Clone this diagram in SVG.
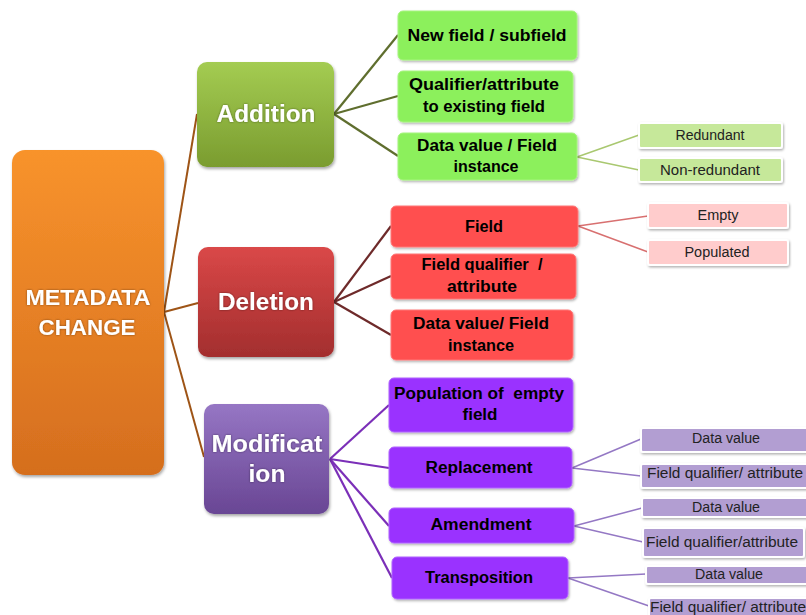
<svg xmlns="http://www.w3.org/2000/svg" width="806" height="615" viewBox="0 0 806 615">
  <defs>
    <linearGradient id="gRoot" x1="0" y1="0" x2="0" y2="1">
      <stop offset="0" stop-color="#F8932C"/>
      <stop offset="1" stop-color="#D56E1E"/>
    </linearGradient>
    <linearGradient id="gAdd" x1="0" y1="0" x2="0" y2="1">
      <stop offset="0" stop-color="#A4CC52"/>
      <stop offset="1" stop-color="#7A9C2F"/>
    </linearGradient>
    <linearGradient id="gDel" x1="0" y1="0" x2="0" y2="1">
      <stop offset="0" stop-color="#DA4848"/>
      <stop offset="1" stop-color="#A32E2E"/>
    </linearGradient>
    <linearGradient id="gMod" x1="0" y1="0" x2="0" y2="1">
      <stop offset="0" stop-color="#9676C4"/>
      <stop offset="1" stop-color="#694694"/>
    </linearGradient>
    <filter id="shadow" x="-10%" y="-10%" width="125%" height="130%">
      <feDropShadow dx="1" dy="2" stdDeviation="1.6" flood-color="#000" flood-opacity="0.35"/>
    </filter>
    <filter id="soft" x="-10%" y="-20%" width="125%" height="150%">
      <feDropShadow dx="1" dy="1.5" stdDeviation="1.2" flood-color="#000" flood-opacity="0.3"/>
    </filter>
    <filter id="glow" x="-10%" y="-20%" width="120%" height="150%">
      <feDropShadow dx="0" dy="0" stdDeviation="1" flood-color="#000" flood-opacity="0.45"/>
    </filter>
  </defs>
  <style>
    .t1 { font-family: "Liberation Sans", Arial, sans-serif; font-weight: bold; fill: #FFFFFF; text-anchor: middle; }
    .t2 { font-family: "Liberation Sans", Arial, sans-serif; font-weight: bold; font-size: 16px; fill: #000000; text-anchor: middle; }
    .t3 { font-family: "Liberation Sans", Arial, sans-serif; font-size: 14px; fill: #222222; text-anchor: middle; }
    .green2 { fill: #8CF05C; stroke: #A6F47E; stroke-width: 1; }
    .red2 { fill: #FF4F4F; stroke: #FF7A7A; stroke-width: 1; }
    .purple2 { fill: #9A32FF; stroke: #B064FF; stroke-width: 1; }
    .green3 { fill: #C6E89A; stroke: #FFFFFF; stroke-width: 2; }
    .pink3 { fill: #FFCCCC; stroke: #FFFFFF; stroke-width: 2; }
    .lav3 { fill: #B29ED2; stroke: #FFFFFF; stroke-width: 2; }
    .c-root { stroke: #9E5416; stroke-width: 2; fill: none; }
    .c-add { stroke: #5F6E2E; stroke-width: 2.2; fill: none; }
    .c-del { stroke: #6E2A2A; stroke-width: 2.2; fill: none; }
    .c-mod { stroke: #7B2FB8; stroke-width: 2.2; fill: none; }
    .c-green { stroke: #A9C870; stroke-width: 1.5; fill: none; }
    .c-red { stroke: #D87070; stroke-width: 1.5; fill: none; }
    .c-lav { stroke: #9478C4; stroke-width: 1.5; fill: none; }
  </style>

  <rect width="806" height="615" fill="#FFFFFF"/>

  <!-- connectors -->
  <g id="connectors">
    <line class="c-root" x1="164" y1="312" x2="197" y2="114"/>
    <line class="c-root" x1="164" y1="312" x2="198" y2="303"/>
    <line class="c-root" x1="164" y1="312" x2="204" y2="457"/>

    <line class="c-add" x1="334" y1="114" x2="398" y2="35"/>
    <line class="c-add" x1="334" y1="114" x2="398" y2="96"/>
    <line class="c-add" x1="334" y1="114" x2="398" y2="156"/>

    <line class="c-del" x1="334" y1="302" x2="391" y2="226"/>
    <line class="c-del" x1="334" y1="302" x2="391" y2="276"/>
    <line class="c-del" x1="334" y1="302" x2="391" y2="335"/>

    <line class="c-mod" x1="330" y1="459" x2="389" y2="405"/>
    <line class="c-mod" x1="330" y1="459" x2="389" y2="468"/>
    <line class="c-mod" x1="330" y1="459" x2="389" y2="526"/>
    <line class="c-mod" x1="330" y1="459" x2="392" y2="578"/>

    <line class="c-green" x1="577" y1="157" x2="639" y2="135"/>
    <line class="c-green" x1="577" y1="157" x2="639" y2="170"/>

    <line class="c-red" x1="578" y1="226" x2="648" y2="216"/>
    <line class="c-red" x1="578" y1="226" x2="648" y2="252"/>

    <line class="c-lav" x1="572" y1="468" x2="641" y2="439"/>
    <line class="c-lav" x1="572" y1="468" x2="641" y2="476"/>
    <line class="c-lav" x1="574" y1="526" x2="642" y2="508"/>
    <line class="c-lav" x1="574" y1="526" x2="643" y2="542"/>
    <line class="c-lav" x1="568" y1="578" x2="646" y2="574"/>
    <line class="c-lav" x1="568" y1="578" x2="649" y2="606"/>
  </g>

  <!-- root -->
  <g id="metadata-change">
    <rect x="12" y="150" width="152" height="325" rx="13" fill="url(#gRoot)" filter="url(#shadow)"/>
    <g filter="url(#glow)">
      <text class="t1" x="88" y="305" font-size="22" textLength="125" lengthAdjust="spacingAndGlyphs">METADATA</text>
      <text class="t1" x="87" y="335" font-size="22" textLength="97" lengthAdjust="spacingAndGlyphs">CHANGE</text>
    </g>
  </g>

  <!-- first level -->
  <g id="addition">
    <rect x="197" y="62" width="137" height="105" rx="10" fill="url(#gAdd)" filter="url(#shadow)"/>
    <text class="t1" x="266" y="122" font-size="24" textLength="99" lengthAdjust="spacingAndGlyphs" filter="url(#glow)">Addition</text>
  </g>
  <g id="deletion">
    <rect x="198" y="247" width="136" height="110" rx="10" fill="url(#gDel)" filter="url(#shadow)"/>
    <text class="t1" x="266" y="310" font-size="24" textLength="96" lengthAdjust="spacingAndGlyphs" filter="url(#glow)">Deletion</text>
  </g>
  <g id="modification">
    <rect x="204" y="404" width="125" height="110" rx="10" fill="url(#gMod)" filter="url(#shadow)"/>
    <g filter="url(#glow)">
      <text class="t1" x="267" y="452" font-size="24" textLength="111" lengthAdjust="spacingAndGlyphs">Modificat</text>
      <text class="t1" x="267" y="482" font-size="24" textLength="37" lengthAdjust="spacingAndGlyphs">ion</text>
    </g>
  </g>

  <!-- addition branch -->
  <g id="new-field">
    <rect class="green2" x="398" y="11" width="179" height="49" rx="5" filter="url(#soft)"/>
    <text class="t2" x="487" y="41" textLength="159" lengthAdjust="spacingAndGlyphs">New field / subfield</text>
  </g>
  <g id="qualifier-existing">
    <rect class="green2" x="398" y="71" width="175" height="51" rx="5" filter="url(#soft)"/>
    <text class="t2" x="484" y="90" textLength="150" lengthAdjust="spacingAndGlyphs">Qualifier/attribute</text>
    <text class="t2" x="484" y="112" textLength="122" lengthAdjust="spacingAndGlyphs">to existing field</text>
  </g>
  <g id="add-data-value">
    <rect class="green2" x="398" y="133" width="179" height="47" rx="5" filter="url(#soft)"/>
    <text class="t2" x="487" y="151" textLength="140" lengthAdjust="spacingAndGlyphs">Data value / Field</text>
    <text class="t2" x="486" y="172" textLength="65" lengthAdjust="spacingAndGlyphs">instance</text>
  </g>
  <g id="redundant">
    <rect class="green3" x="639" y="123" width="143" height="25" rx="2" filter="url(#soft)"/>
    <text class="t3" x="710" y="140" textLength="69" lengthAdjust="spacingAndGlyphs">Redundant</text>
  </g>
  <g id="non-redundant">
    <rect class="green3" x="639" y="158" width="143" height="24" rx="2" filter="url(#soft)"/>
    <text class="t3" x="710" y="175" textLength="100" lengthAdjust="spacingAndGlyphs">Non-redundant</text>
  </g>

  <!-- deletion branch -->
  <g id="del-field">
    <rect class="red2" x="391" y="206" width="187" height="41" rx="5" filter="url(#soft)"/>
    <text class="t2" x="484" y="232" textLength="38" lengthAdjust="spacingAndGlyphs">Field</text>
  </g>
  <g id="del-qualifier">
    <rect class="red2" x="391" y="254" width="185" height="45" rx="5" filter="url(#soft)"/>
    <text class="t2" x="482" y="270" textLength="121" lengthAdjust="spacingAndGlyphs" xml:space="preserve">Field qualifier  /</text>
    <text class="t2" x="482" y="292" textLength="70" lengthAdjust="spacingAndGlyphs">attribute</text>
  </g>
  <g id="del-data-value">
    <rect class="red2" x="391" y="310" width="182" height="50" rx="5" filter="url(#soft)"/>
    <text class="t2" x="481" y="329" textLength="136" lengthAdjust="spacingAndGlyphs">Data value/ Field</text>
    <text class="t2" x="481" y="351" textLength="66" lengthAdjust="spacingAndGlyphs">instance</text>
  </g>
  <g id="empty">
    <rect class="pink3" x="648" y="203" width="140" height="25" rx="2" filter="url(#soft)"/>
    <text class="t3" x="718" y="220" textLength="41" lengthAdjust="spacingAndGlyphs">Empty</text>
  </g>
  <g id="populated">
    <rect class="pink3" x="648" y="240" width="140" height="25" rx="2" filter="url(#soft)"/>
    <text class="t3" x="717" y="257" textLength="65" lengthAdjust="spacingAndGlyphs">Populated</text>
  </g>

  <!-- modification branch -->
  <g id="population-empty">
    <rect class="purple2" x="389" y="378" width="184" height="54" rx="5" filter="url(#soft)"/>
    <text class="t2" x="479" y="399" textLength="170" lengthAdjust="spacingAndGlyphs" xml:space="preserve">Population of  empty</text>
    <text class="t2" x="480" y="420" textLength="35" lengthAdjust="spacingAndGlyphs">field</text>
  </g>
  <g id="replacement">
    <rect class="purple2" x="389" y="447" width="183" height="41" rx="5" filter="url(#soft)"/>
    <text class="t2" x="479" y="473" textLength="107" lengthAdjust="spacingAndGlyphs">Replacement</text>
  </g>
  <g id="amendment">
    <rect class="purple2" x="389" y="508" width="185" height="35" rx="5" filter="url(#soft)"/>
    <text class="t2" x="481" y="530" textLength="101" lengthAdjust="spacingAndGlyphs">Amendment</text>
  </g>
  <g id="transposition">
    <rect class="purple2" x="392" y="557" width="176" height="42" rx="5" filter="url(#soft)"/>
    <text class="t2" x="479" y="583" textLength="108" lengthAdjust="spacingAndGlyphs">Transposition</text>
  </g>

  <g id="replacement-data-value">
    <rect class="lav3" x="641" y="428" width="168" height="24" rx="2" filter="url(#soft)"/>
    <text class="t3" x="726" y="443" textLength="68" lengthAdjust="spacingAndGlyphs">Data value</text>
  </g>
  <g id="replacement-qualifier">
    <rect class="lav3" x="641" y="464" width="168" height="24" rx="2" filter="url(#soft)"/>
    <text class="t3" x="725" y="478" textLength="156" lengthAdjust="spacingAndGlyphs">Field qualifier/ attribute</text>
  </g>
  <g id="amendment-data-value">
    <rect class="lav3" x="642" y="498" width="167" height="19" rx="2" filter="url(#soft)"/>
    <text class="t3" x="726" y="512" textLength="68" lengthAdjust="spacingAndGlyphs">Data value</text>
  </g>
  <g id="amendment-qualifier">
    <rect class="lav3" x="643" y="528" width="161" height="29" rx="2" filter="url(#soft)"/>
    <text class="t3" x="722" y="547" textLength="152" lengthAdjust="spacingAndGlyphs">Field qualifier/attribute</text>
  </g>
  <g id="transposition-data-value">
    <rect class="lav3" x="646" y="566" width="163" height="18" rx="2" filter="url(#soft)"/>
    <text class="t3" x="729" y="579" textLength="68" lengthAdjust="spacingAndGlyphs">Data value</text>
  </g>
  <g id="transposition-qualifier">
    <rect class="lav3" x="649" y="598" width="160" height="24" rx="2" filter="url(#soft)"/>
    <text class="t3" x="728" y="612" textLength="156" lengthAdjust="spacingAndGlyphs">Field qualifier/ attribute</text>
  </g>
</svg>
